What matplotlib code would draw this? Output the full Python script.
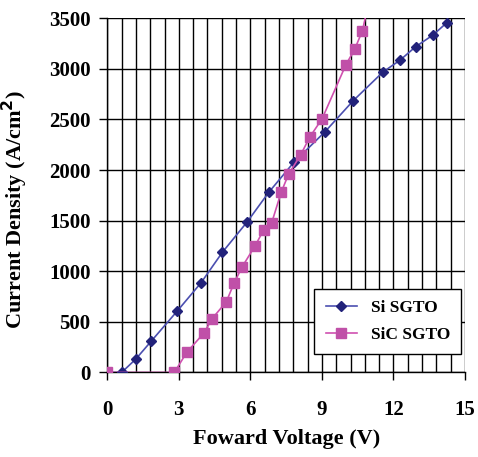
import numpy as np
import matplotlib.pyplot as plt
from matplotlib.ticker import MultipleLocator

# Si SGTO (diamonds)
si_v = [0.0, 0.60, 1.19, 1.83, 2.93, 3.93, 4.83, 5.87, 6.77, 7.82,
        9.13, 10.31, 11.56, 12.27, 12.93, 13.66, 14.24]
si_j = [0, 0, 131, 306, 606, 886, 1189, 1489, 1780, 2076,
        2379, 2685, 2969, 3085, 3219, 3335, 3457]

# SiC SGTO (squares)
sic_v = [0.0, 2.81, 3.33, 4.06, 4.39, 4.99, 5.31, 5.64, 6.20, 6.56,
         6.89, 7.29, 7.60, 8.11, 8.49, 9.01, 10.00, 10.38, 10.70, 11.05]
sic_j = [0, 0, 198, 392, 530, 698, 880, 1038, 1252, 1410,
         1476, 1780, 1958, 2151, 2326, 2508, 3038, 3197, 3378, 3750]

x_ticks = [0, 3, 6, 9, 12, 15]
y_ticks = [0, 500, 1000, 1500, 2000, 2500, 3000, 3500]

plt.rcParams['font.family'] = ['Liberation Serif', 'DejaVu Serif']
plt.rcParams['font.weight'] = 'bold'

fig = plt.figure(figsize=(4.78, 4.57), dpi=100)
ax = fig.add_axes([0.2245, 0.185, 0.7483, 0.775])

ax.plot(si_v, si_j, '-', color='#4b4fb0', linewidth=1.2, marker='D',
        markersize=5.5, markerfacecolor='#22227a', markeredgecolor='#22227a',
        label='Si SGTO', zorder=3)
ax.plot(sic_v, sic_j, '-', color='#d050b0', linewidth=1.2, marker='s',
        markersize=7, markerfacecolor='#c050a8', markeredgecolor='#c050a8',
        label='SiC SGTO', zorder=4)

ax.set_xlim(0, 15)
ax.set_ylim(0, 3500)
ax.set_xticks(x_ticks)
ax.set_yticks(y_ticks)
ax.xaxis.set_minor_locator(MultipleLocator(0.6))
ax.grid(True, which='major', color='black', linewidth=1.0)
ax.grid(True, which='minor', axis='x', color='black', linewidth=1.0)
ax.set_axisbelow(True)
ax.tick_params(axis='both', which='major', direction='out', length=6,
               width=1, labelsize=15)
ax.tick_params(axis='x', which='major', pad=14)
ax.tick_params(axis='y', which='major', pad=6)
ax.tick_params(axis='x', which='minor', length=0)
for s in ['top', 'right']:
    ax.spines[s].set_visible(False)
for s in ['left', 'bottom']:
    ax.spines[s].set_linewidth(1.0)

ax.set_xlabel('Foward Voltage (V)', fontsize=16, fontweight='bold', labelpad=6)
ax.set_ylabel('Current Density (A/cm$^\\mathbf{2}$)', fontsize=16,
              fontweight='bold', labelpad=5)
ax.yaxis.set_label_coords(-0.215, 0.46)

leg = ax.legend(loc='lower right', bbox_to_anchor=(0.99, 0.052), borderaxespad=0,
                fontsize=12.5, fancybox=False, framealpha=1, edgecolor='black',
                borderpad=0.65, handlelength=1.8, labelspacing=0.6)
leg.get_frame().set_linewidth(1.0)

fig.savefig('out.png', dpi=100)
